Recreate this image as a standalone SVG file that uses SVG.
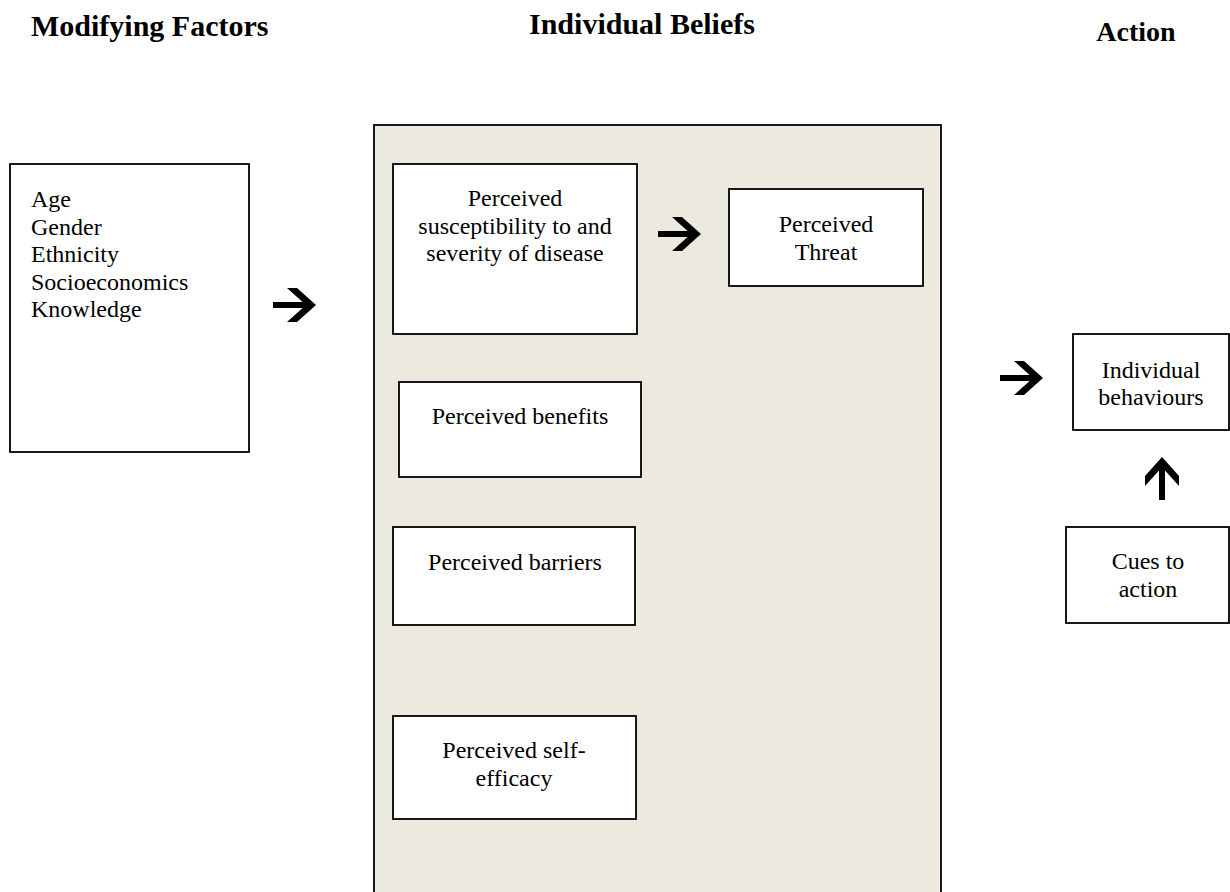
<svg xmlns="http://www.w3.org/2000/svg" width="1230" height="892" viewBox="0 0 1230 892">
<style>
  .t { font-family: "Liberation Serif", "Times New Roman", serif; font-size: 24px; fill: #000; }
  .c { text-anchor: middle; }
  .h { font-family: "Liberation Serif", "Times New Roman", serif; font-size: 30px; font-weight: bold; fill: #000; }
  .box { fill: #fff; stroke: #000; stroke-width: 1.8; }
  .panel { fill: #ECE9DF; stroke: #000; stroke-width: 1.8; }
  .arr { fill: #000; }
</style>
<defs>
  <polygon id="arrow" points="0,0 -19,-17 -29,-17 -13.4,-3 -43,-3 -43,3 -13.4,3 -29,17 -19,17"/>
</defs>
<rect width="1230" height="892" fill="#fff"/>

<g id="headings">
  <text class="h" x="31" y="36">Modifying Factors</text>
  <text class="h" x="529" y="34">Individual Beliefs</text>
  <text class="h c" x="1136" y="41" style="font-size:28px">Action</text>
</g>

<g id="individual-beliefs">
  <rect class="panel" x="374" y="125" width="567" height="780"/>
</g>

<g id="modifying-factors">
  <rect class="box" x="10" y="164" width="239" height="288"/>
  <text class="t" x="31" y="207">Age</text>
  <text class="t" x="31" y="234.6">Gender</text>
  <text class="t" x="31" y="262.2">Ethnicity</text>
  <text class="t" x="31" y="289.8">Socioeconomics</text>
  <text class="t" x="31" y="317.4">Knowledge</text>
</g>

<g id="susceptibility">
  <rect class="box" x="393" y="164" width="244" height="170"/>
  <text class="t c" x="515" y="206">Perceived</text>
  <text class="t c" x="515" y="233.6">susceptibility to and</text>
  <text class="t c" x="515" y="261.2">severity of disease</text>
</g>

<g id="threat">
  <rect class="box" x="729" y="189" width="194" height="97"/>
  <text class="t c" x="826" y="232">Perceived</text>
  <text class="t c" x="826" y="259.6">Threat</text>
</g>

<g id="benefits">
  <rect class="box" x="399" y="382" width="242" height="95"/>
  <text class="t c" x="520" y="424">Perceived benefits</text>
</g>

<g id="barriers">
  <rect class="box" x="393" y="527" width="242" height="98"/>
  <text class="t c" x="515" y="570">Perceived barriers</text>
</g>

<g id="self-efficacy">
  <rect class="box" x="393" y="716" width="243" height="103"/>
  <text class="t c" x="514" y="758">Perceived self-</text>
  <text class="t c" x="514" y="786">efficacy</text>
</g>

<g id="behaviours">
  <rect class="box" x="1073" y="334" width="156" height="96"/>
  <text class="t c" x="1151" y="378">Individual</text>
  <text class="t c" x="1151" y="405">behaviours</text>
</g>

<g id="cues">
  <rect class="box" x="1066" y="527" width="163" height="96"/>
  <text class="t c" x="1148" y="569">Cues to</text>
  <text class="t c" x="1148" y="597">action</text>
</g>

<g id="connectors" class="arr">
  <use href="#arrow" transform="translate(316,305)"/>
  <use href="#arrow" transform="translate(701,234)"/>
  <use href="#arrow" transform="translate(1043,378)"/>
  <use href="#arrow" transform="translate(1162,457) rotate(-90)"/>
</g>
</svg>
